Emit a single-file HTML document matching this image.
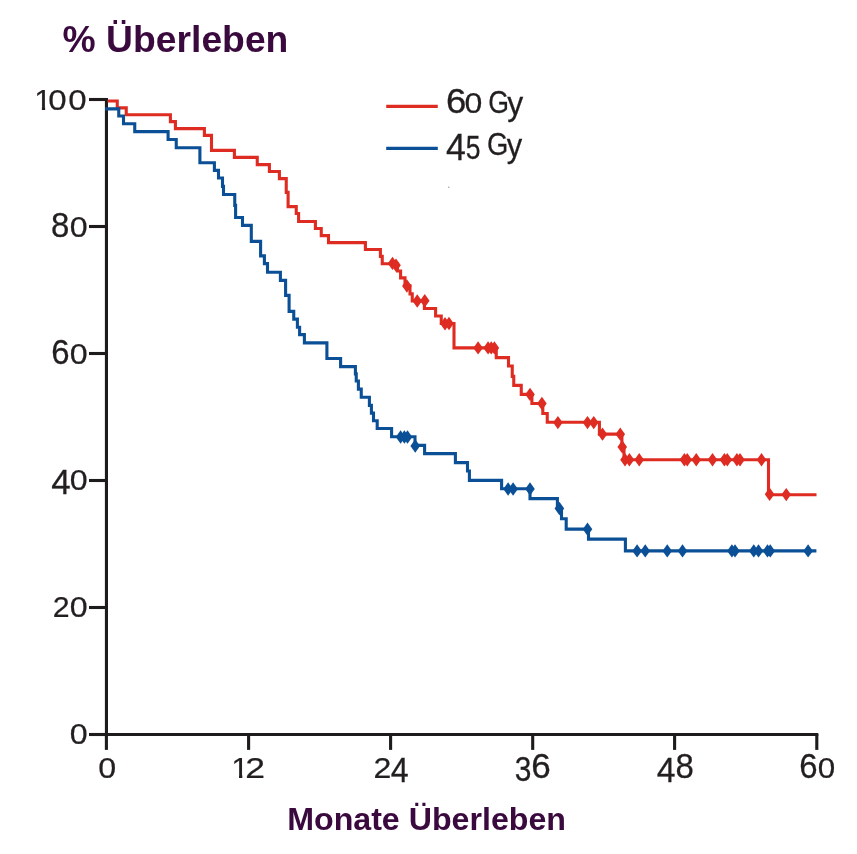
<!DOCTYPE html>
<html lang="de"><head><meta charset="utf-8"><title>% Überleben</title>
<style>html,body{margin:0;padding:0;background:#fff}body{width:857px;height:854px;overflow:hidden}svg{display:block}text{font-family:"Liberation Sans",sans-serif}</style></head><body>
<svg width="857" height="854" viewBox="0 0 857 854">
<rect width="857" height="854" fill="#ffffff"/>
<defs><clipPath id="one"><path d="M8.79 -70.80 H35.16 V5 H24.27 V-10.50 H8.79 Z"/></clipPath></defs>
<text x="62.6" y="51.7" font-size="37.3" font-weight="bold" fill="#3a0a3e" textLength="225.8" lengthAdjust="spacingAndGlyphs">% Überleben</text>
<text x="287.2" y="830.0" font-size="30.6" font-weight="bold" fill="#3a0a3e" textLength="278.8" lengthAdjust="spacingAndGlyphs">Monate Überleben</text>
<g stroke="#1d1b1c" stroke-width="3.1" fill="none" stroke-linecap="butt">
<path d="M106.45 98.0 V736.0"/>
<path d="M105 734.45 H818.3"/>
<path d="M89.0 99.50 H106"/>
<path d="M89.0 226.50 H106"/>
<path d="M89.0 353.50 H106"/>
<path d="M89.0 480.50 H106"/>
<path d="M89.0 607.50 H106"/>
<path d="M89.0 734.50 H106"/>
<path d="M106.4 734 V749.9"/>
<path d="M248.6 734 V749.9"/>
<path d="M390.6 734 V749.9"/>
<path d="M532.7 734 V749.9"/>
<path d="M674.6 734 V749.9"/>
<path d="M816.8 734 V749.9"/>
</g>
<g transform="translate(34.30 110.00) scale(0.3119 0.2980)"><text clip-path="url(#one)" font-size="100" fill="#231f20" stroke="#231f20" stroke-width="0.8">1</text></g>
<text transform="translate(48.21 110.01) scale(0.3305 0.2938)" font-size="100" fill="#231f20" stroke="#231f20" stroke-width="0.8">0</text>
<text transform="translate(68.21 110.01) scale(0.3305 0.2938)" font-size="100" fill="#231f20" stroke="#231f20" stroke-width="0.8">0</text>
<text transform="translate(50.96 236.55) scale(0.3303 0.3545)" font-size="100" fill="#231f20" stroke="#231f20" stroke-width="0.8">8</text>
<text transform="translate(69.84 236.61) scale(0.3222 0.2938)" font-size="100" fill="#231f20" stroke="#231f20" stroke-width="0.8">0</text>
<text transform="translate(51.13 363.55) scale(0.3294 0.3545)" font-size="100" fill="#231f20" stroke="#231f20" stroke-width="0.8">6</text>
<text transform="translate(69.84 363.61) scale(0.3222 0.2938)" font-size="100" fill="#231f20" stroke="#231f20" stroke-width="0.8">0</text>
<text transform="translate(51.20 494.40) scale(0.3493 0.3518)" font-size="100" fill="#231f20" stroke="#231f20" stroke-width="0.8">4</text>
<text transform="translate(69.84 490.21) scale(0.3222 0.2938)" font-size="100" fill="#231f20" stroke="#231f20" stroke-width="0.8">0</text>
<text transform="translate(52.68 617.10) scale(0.3029 0.2936)" font-size="100" fill="#231f20" stroke="#231f20" stroke-width="0.8">2</text>
<text transform="translate(69.84 617.11) scale(0.3222 0.2938)" font-size="100" fill="#231f20" stroke="#231f20" stroke-width="0.8">0</text>
<text transform="translate(69.84 744.31) scale(0.3222 0.2938)" font-size="100" fill="#231f20" stroke="#231f20" stroke-width="0.8">0</text>
<text transform="translate(98.34 777.71) scale(0.3222 0.2938)" font-size="100" fill="#231f20" stroke="#231f20" stroke-width="0.8">0</text>
<g transform="translate(231.36 777.70) scale(0.3160 0.2980)"><text clip-path="url(#one)" font-size="100" fill="#231f20" stroke="#231f20" stroke-width="0.8">1</text></g>
<text transform="translate(245.31 777.70) scale(0.3556 0.2936)" font-size="100" fill="#231f20" stroke="#231f20" stroke-width="0.8">2</text>
<text transform="translate(373.39 777.70) scale(0.3205 0.2936)" font-size="100" fill="#231f20" stroke="#231f20" stroke-width="0.8">2</text>
<text transform="translate(390.76 781.90) scale(0.3215 0.3518)" font-size="100" fill="#231f20" stroke="#231f20" stroke-width="0.8">4</text>
<text transform="translate(514.66 781.36) scale(0.2995 0.3432)" font-size="100" fill="#231f20" stroke="#231f20" stroke-width="0.8">3</text>
<text transform="translate(531.22 777.65) scale(0.3511 0.3545)" font-size="100" fill="#231f20" stroke="#231f20" stroke-width="0.8">6</text>
<text transform="translate(656.73 781.90) scale(0.3374 0.3518)" font-size="100" fill="#231f20" stroke="#231f20" stroke-width="0.8">4</text>
<text transform="translate(675.56 777.65) scale(0.3303 0.3545)" font-size="100" fill="#231f20" stroke="#231f20" stroke-width="0.8">8</text>
<text transform="translate(799.13 777.65) scale(0.3294 0.3545)" font-size="100" fill="#231f20" stroke="#231f20" stroke-width="0.8">6</text>
<text transform="translate(817.77 777.71) scale(0.3138 0.2938)" font-size="100" fill="#231f20" stroke="#231f20" stroke-width="0.8">0</text>
<path d="M386.2 106.4 H437.8" stroke="#de2c22" stroke-width="3.1"/>
<path d="M386.2 148.4 H437.8" stroke="#0b5096" stroke-width="3.1"/>
<text transform="translate(446.04 113.16) scale(0.3663 0.3460)" font-size="100" fill="#231f20" stroke="#231f20" stroke-width="0.8">6</text>
<text transform="translate(464.55 113.22) scale(0.3201 0.2867)" font-size="100" fill="#231f20" stroke="#231f20" stroke-width="0.8">0</text>
<text transform="translate(488.16 113.19) scale(0.2665 0.3178)" font-size="100" fill="#231f20" stroke="#231f20" stroke-width="0.8">G</text>
<text transform="translate(507.32 114.78) scale(0.3188 0.3289)" font-size="100" fill="#231f20" stroke="#231f20" stroke-width="0.8">y</text>
<text transform="translate(445.98 159.60) scale(0.3572 0.3605)" font-size="100" fill="#231f20" stroke="#231f20" stroke-width="0.8">4</text>
<text transform="translate(465.84 158.97) scale(0.2658 0.3368)" font-size="100" fill="#231f20" stroke="#231f20" stroke-width="0.8">5</text>
<text transform="translate(487.12 155.29) scale(0.2742 0.3220)" font-size="100" fill="#231f20" stroke="#231f20" stroke-width="0.8">G</text>
<text transform="translate(506.82 156.50) scale(0.3087 0.3275)" font-size="100" fill="#231f20" stroke="#231f20" stroke-width="0.8">y</text>
<g transform="translate(0 0.4)">
<path d="M107.6 100.6 H117.25 V107.5 H126.25 V114.4 H170.4 V121.25 H175.4 V128.2 H204.4 V135.0 H211.5 V150.0 H234.4 V157.0 H257.25 V164.2 H269.4 V171.1 H279.4 V178.2 H286.25 V192.0 H288.1 V206.25 H296.25 V213.1 H298.6 V221.1 H315.4 V228.1 H321.25 V235.25 H328.5 V242.25 H365.4 V249.1 H380.4 V256.0 H382.25 V263.3 H397.5 V270.6 H400.6 V277.5 H405.0 V285.3 H410.0 V293.5 H412.25 V300.6 H424.4 V308.1 H435.6 V315.6 H441.25 V323.1 H454.0 V347.5 H496.25 V357.25 H508.5 V365.6 H512.25 V376.0 H513.75 V385.0 H521.25 V394.0 H531.9 V403.1 H542.8 V413.1 H547.25 V421.9 H599.4 V433.75 H621.9 V446.25 H624.0 V459.4 H768.5 V494.4 H816.5" fill="none" stroke="#de2c22" stroke-width="3.1" stroke-linejoin="miter"/>
<path d="M387.7 263.0 L392.5 256.3 L397.3 263.0 L392.5 269.7 Z" fill="#de2c22"/>
<path d="M391.2 264.8 L396.0 258.1 L400.8 264.8 L396.0 271.5 Z" fill="#de2c22"/>
<path d="M402.09999999999997 285.6 L406.9 278.90000000000003 L411.7 285.6 L406.9 292.3 Z" fill="#de2c22"/>
<path d="M412.45 300.6 L417.25 293.90000000000003 L422.05 300.6 L417.25 307.3 Z" fill="#de2c22"/>
<path d="M419.95 300.4 L424.75 293.7 L429.55 300.4 L424.75 307.09999999999997 Z" fill="#de2c22"/>
<path d="M440.2 323.3 L445.0 316.6 L449.8 323.3 L445.0 330.0 Z" fill="#de2c22"/>
<path d="M444.2 323.1 L449.0 316.40000000000003 L453.8 323.1 L449.0 329.8 Z" fill="#de2c22"/>
<path d="M473.3 347.5 L478.1 340.8 L482.90000000000003 347.5 L478.1 354.2 Z" fill="#de2c22"/>
<path d="M483.3 347.5 L488.1 340.8 L492.90000000000003 347.5 L488.1 354.2 Z" fill="#de2c22"/>
<path d="M486.45 347.5 L491.25 340.8 L496.05 347.5 L491.25 354.2 Z" fill="#de2c22"/>
<path d="M489.59999999999997 347.5 L494.4 340.8 L499.2 347.5 L494.4 354.2 Z" fill="#de2c22"/>
<path d="M525.2 394.0 L530.0 387.3 L534.8 394.0 L530.0 400.7 Z" fill="#de2c22"/>
<path d="M537.1 403.1 L541.9 396.40000000000003 L546.6999999999999 403.1 L541.9 409.8 Z" fill="#de2c22"/>
<path d="M553.1 422.2 L557.9 415.5 L562.6999999999999 422.2 L557.9 428.9 Z" fill="#de2c22"/>
<path d="M582.7 422.2 L587.5 415.5 L592.3 422.2 L587.5 428.9 Z" fill="#de2c22"/>
<path d="M588.95 422.2 L593.75 415.5 L598.55 422.2 L593.75 428.9 Z" fill="#de2c22"/>
<path d="M597.7 433.75 L602.5 427.05 L607.3 433.75 L602.5 440.45 Z" fill="#de2c22"/>
<path d="M615.45 433.75 L620.25 427.05 L625.05 433.75 L620.25 440.45 Z" fill="#de2c22"/>
<path d="M617.45 446.5 L622.25 439.8 L627.05 446.5 L622.25 453.2 Z" fill="#de2c22"/>
<path d="M620.2 459.4 L625 452.7 L629.8 459.4 L625 466.09999999999997 Z" fill="#de2c22"/>
<path d="M624.6 459.4 L629.4 452.7 L634.1999999999999 459.4 L629.4 466.09999999999997 Z" fill="#de2c22"/>
<path d="M634.4000000000001 459.4 L639.2 452.7 L644.0 459.4 L639.2 466.09999999999997 Z" fill="#de2c22"/>
<path d="M679.6 459.4 L684.4 452.7 L689.1999999999999 459.4 L684.4 466.09999999999997 Z" fill="#de2c22"/>
<path d="M682.45 459.4 L687.25 452.7 L692.05 459.4 L687.25 466.09999999999997 Z" fill="#de2c22"/>
<path d="M691.45 459.4 L696.25 452.7 L701.05 459.4 L696.25 466.09999999999997 Z" fill="#de2c22"/>
<path d="M707.7 459.4 L712.5 452.7 L717.3 459.4 L712.5 466.09999999999997 Z" fill="#de2c22"/>
<path d="M719.6 459.4 L724.4 452.7 L729.1999999999999 459.4 L724.4 466.09999999999997 Z" fill="#de2c22"/>
<path d="M722.5 459.4 L727.3 452.7 L732.0999999999999 459.4 L727.3 466.09999999999997 Z" fill="#de2c22"/>
<path d="M732.1 459.4 L736.9 452.7 L741.6999999999999 459.4 L736.9 466.09999999999997 Z" fill="#de2c22"/>
<path d="M735.2 459.4 L740 452.7 L744.8 459.4 L740 466.09999999999997 Z" fill="#de2c22"/>
<path d="M756.7 459.4 L761.5 452.7 L766.3 459.4 L761.5 466.09999999999997 Z" fill="#de2c22"/>
<path d="M764.8000000000001 493.9 L769.6 487.2 L774.4 493.9 L769.6 500.59999999999997 Z" fill="#de2c22"/>
<path d="M781.45 494.2 L786.25 487.5 L791.05 494.2 L786.25 500.9 Z" fill="#de2c22"/>
<path d="M105.2 108.5 H118.75 V115.6 H123.5 V123.4 H134.75 V131.25 H168.1 V139.1 H176.25 V147.4 H199.9 V162.4 H214.4 V170.0 H218.5 V177.6 H222.5 V186.0 H223.5 V194.1 H234.75 V205.0 H235.6 V217.1 H242.5 V225.0 H251.3 V241.0 H260.6 V255.5 H264.4 V263.2 H267.5 V271.9 H280.4 V280.0 H285.6 V295.0 H289.1 V311.0 H293.75 V318.75 H297.4 V326.9 H299.6 V334.2 H304.4 V342.5 H326.9 V358.1 H340.6 V366.25 H355.4 V373.5 H356.25 V380.6 H358.4 V388.75 H361.25 V396.9 H369.4 V405.0 H371.4 V412.7 H373.5 V420.4 H377.2 V428.1 H391.6 V436.4 H415.0 V445.0 H424.6 V453.2 H455.4 V462.2 H467.5 V470.6 H469.4 V480.0 H501.6 V488.4 H530.0 V498.2 H557.4 V508.1 H561.5 V518.3 H566.2 V528.75 H588.5 V538.75 H625.4 V550.5 H816.4" fill="none" stroke="#0b5096" stroke-width="3.1" stroke-linejoin="miter"/>
<path d="M395.8 436.6 L400.6 429.90000000000003 L405.40000000000003 436.6 L400.6 443.3 Z" fill="#0b5096"/>
<path d="M399.59999999999997 436.6 L404.4 429.90000000000003 L409.2 436.6 L404.4 443.3 Z" fill="#0b5096"/>
<path d="M402.7 436.6 L407.5 429.90000000000003 L412.3 436.6 L407.5 443.3 Z" fill="#0b5096"/>
<path d="M410.45 445.6 L415.25 438.90000000000003 L420.05 445.6 L415.25 452.3 Z" fill="#0b5096"/>
<path d="M503.3 488.6 L508.1 481.90000000000003 L512.9 488.6 L508.1 495.3 Z" fill="#0b5096"/>
<path d="M508.3 488.6 L513.1 481.90000000000003 L517.9 488.6 L513.1 495.3 Z" fill="#0b5096"/>
<path d="M525.2 488.5 L530.0 481.8 L534.8 488.5 L530.0 495.2 Z" fill="#0b5096"/>
<path d="M554.6 508.1 L559.4 501.40000000000003 L564.1999999999999 508.1 L559.4 514.8000000000001 Z" fill="#0b5096"/>
<path d="M582.7 528.75 L587.5 522.05 L592.3 528.75 L587.5 535.45 Z" fill="#0b5096"/>
<path d="M632.3000000000001 550.5 L637.1 543.8 L641.9 550.5 L637.1 557.2 Z" fill="#0b5096"/>
<path d="M640.45 550.5 L645.25 543.8 L650.05 550.5 L645.25 557.2 Z" fill="#0b5096"/>
<path d="M662.45 550.5 L667.25 543.8 L672.05 550.5 L667.25 557.2 Z" fill="#0b5096"/>
<path d="M677.7 550.5 L682.5 543.8 L687.3 550.5 L682.5 557.2 Z" fill="#0b5096"/>
<path d="M727.1 550.5 L731.9 543.8 L736.6999999999999 550.5 L731.9 557.2 Z" fill="#0b5096"/>
<path d="M730.2 550.5 L735.0 543.8 L739.8 550.5 L735.0 557.2 Z" fill="#0b5096"/>
<path d="M748.95 550.5 L753.75 543.8 L758.55 550.5 L753.75 557.2 Z" fill="#0b5096"/>
<path d="M753.7 550.5 L758.5 543.8 L763.3 550.5 L758.5 557.2 Z" fill="#0b5096"/>
<path d="M762.7 550.5 L767.5 543.8 L772.3 550.5 L767.5 557.2 Z" fill="#0b5096"/>
<path d="M765.45 550.5 L770.25 543.8 L775.05 550.5 L770.25 557.2 Z" fill="#0b5096"/>
<path d="M803.3000000000001 550.5 L808.1 543.8 L812.9 550.5 L808.1 557.2 Z" fill="#0b5096"/>
</g>
<circle cx="448.8" cy="187.3" r="0.7" fill="#9a9a9a"/>
</svg></body></html>
